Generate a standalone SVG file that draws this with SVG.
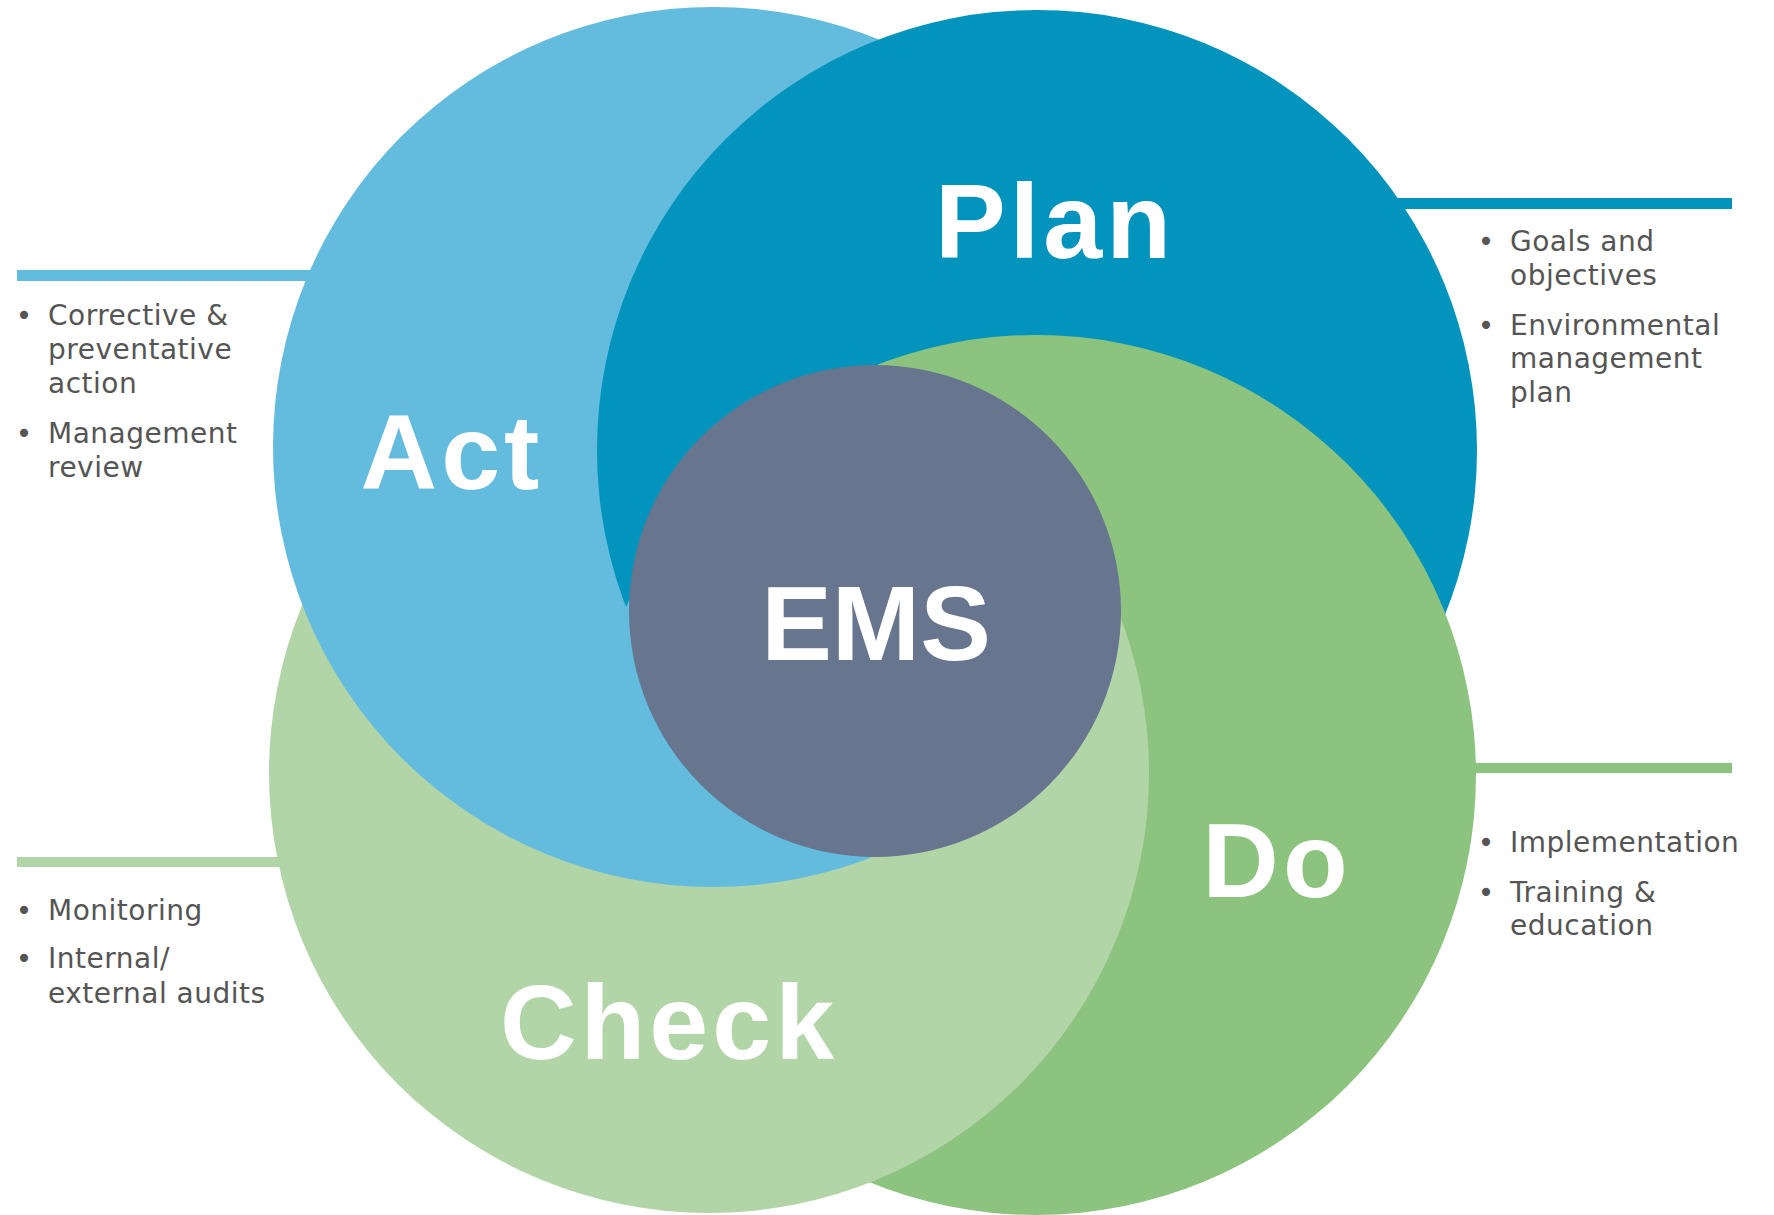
<svg xmlns="http://www.w3.org/2000/svg" width="1774" height="1215" viewBox="0 0 1774 1215">
<style>
.big{font-family:"Liberation Sans",Arial,sans-serif;font-weight:700;font-size:106px;fill:#fff;text-anchor:middle;letter-spacing:4px}
.sm{font-family:"DejaVu Sans","Liberation Sans",sans-serif;font-size:28px;fill:#555;letter-spacing:0.5px}
.bul{font-family:"DejaVu Sans",sans-serif;font-size:28px;fill:#555;text-anchor:middle}
.c-plan{fill:#0294BD}.c-act{fill:#63BCDE}.c-do{fill:#8CC47F}.c-check{fill:#B2D5A8}
</style>
<defs>
<clipPath id="doPlus1"><circle cx="1036" cy="775" r="441.5"/></clipPath>
<clipPath id="doPlus2"><circle cx="1036" cy="775" r="443"/></clipPath>
<clipPath id="lowerLeft"><polygon points="0,-264 1800,1536 0,1536"/></clipPath>
</defs>
<rect width="1774" height="1215" fill="#fff"/>
<g id="connectors">
<rect x="1300" y="198" width="432" height="11" class="c-plan"/>
<rect x="17" y="270" width="320" height="11" class="c-act"/>
<rect x="1300" y="763" width="432" height="10" class="c-do"/>
<rect x="17" y="857" width="320" height="10" class="c-check"/>
</g>
<g id="check"><circle cx="709" cy="773" r="440" class="c-check"/></g>
<g id="act"><circle cx="713" cy="447" r="440" class="c-act"/></g>
<g id="plan"><circle cx="1037" cy="450" r="440" class="c-plan"/></g>
<g id="do"><circle cx="1036" cy="775" r="440" class="c-do"/></g>
<g id="check-over-do" clip-path="url(#doPlus1)"><circle cx="709" cy="773" r="440" class="c-check"/></g>
<g id="act-over-do" clip-path="url(#doPlus2)"><g clip-path="url(#lowerLeft)"><circle cx="713" cy="447" r="440" class="c-act"/></g></g>
<g id="ems"><circle cx="875" cy="611" r="246" fill="#67758E"/>
<text class="big" x="876" y="660" style="letter-spacing:0">EMS</text></g>
<g id="labels">
<text class="big" x="1055" y="258">Plan</text>
<text class="big" x="452" y="489">Act</text>
<text class="big" x="1277" y="897">Do</text>
<text class="big" x="669" y="1059">Check</text>
</g>
<g id="act-notes">
<text class="bul" x="24" y="325">•</text>
<text class="sm" x="48" y="325">Corrective &amp;</text>
<text class="sm" x="48" y="359">preventative</text>
<text class="sm" x="48" y="393">action</text>
<text class="bul" x="24" y="443">•</text>
<text class="sm" x="48" y="443">Management</text>
<text class="sm" x="48" y="477">review</text>
</g>
<g id="plan-notes">
<text class="bul" x="1486" y="251">•</text>
<text class="sm" x="1510" y="251">Goals and</text>
<text class="sm" x="1510" y="285">objectives</text>
<text class="bul" x="1486" y="335">•</text>
<text class="sm" x="1510" y="335">Environmental</text>
<text class="sm" x="1510" y="368">management</text>
<text class="sm" x="1510" y="402">plan</text>
</g>
<g id="check-notes">
<text class="bul" x="24" y="920">•</text>
<text class="sm" x="48" y="920">Monitoring</text>
<text class="bul" x="24" y="968">•</text>
<text class="sm" x="48" y="968">Internal/</text>
<text class="sm" x="48" y="1003">external audits</text>
</g>
<g id="do-notes">
<text class="bul" x="1486" y="852">•</text>
<text class="sm" x="1510" y="852">Implementation</text>
<text class="bul" x="1486" y="902">•</text>
<text class="sm" x="1510" y="902">Training &amp;</text>
<text class="sm" x="1510" y="935">education</text>
</g>
</svg>
